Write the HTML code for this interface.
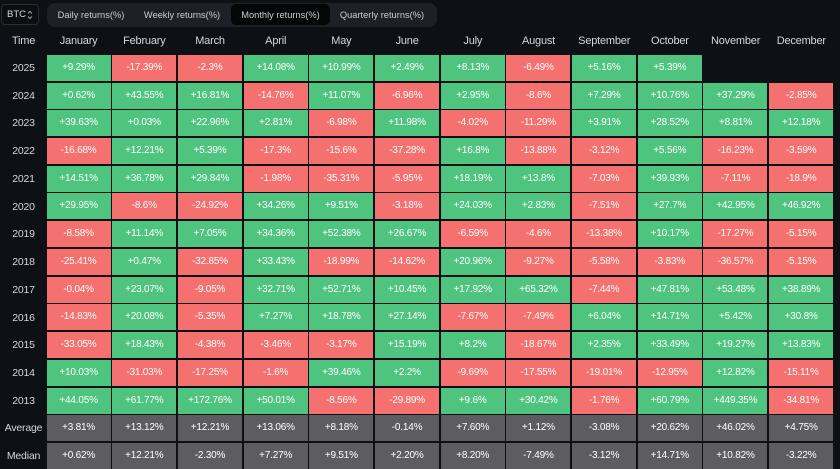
<!DOCTYPE html>
<html><head><meta charset="utf-8"><style>
*{margin:0;padding:0;box-sizing:border-box}
body{width:840px;height:468px;background:#0d1015;overflow:hidden;position:relative;font-family:"Liberation Sans",sans-serif;color:#fff}
.sel{position:absolute;left:1px;top:4px;width:38px;height:21px;border:1px solid #2a2e35;border-radius:4px;background:#0b0d11;font-size:9.5px;color:#d6d8dc;line-height:19px;padding-left:5px}
.sel svg{position:absolute;left:25px;top:5px}
.tabs{position:absolute;left:47px;top:3px;width:390px;height:24px;border-radius:8px;background:#1d2026}
.tab{position:absolute;top:0;height:24px;line-height:24px;font-size:9.3px;color:#c9ccd1;transform:translateX(-50%);white-space:nowrap}
.act{position:absolute;left:184px;top:1px;width:99px;height:21px;background:#050608;border-radius:5px}
.hdr{position:absolute;top:33px;height:16px;line-height:16px;font-size:11px;color:#d4d7dc;transform:translateX(-50%);white-space:nowrap;letter-spacing:-0.2px}
.lbl{position:absolute;left:0;width:47px;text-align:center;font-size:10.5px;color:#d4d7dc;height:26px;line-height:26px;letter-spacing:-0.2px}
.grid{position:absolute;left:46.6px;top:54.8px;display:grid;grid-template-columns:repeat(12,64px);column-gap:1.7px;grid-template-rows:repeat(15,26px);row-gap:1.74px}
.grid div{text-align:center;line-height:26px;font-size:10px;color:#fff;letter-spacing:-0.2px}
.g{background:#4fc47f}.r{background:#f4716f}.a{background:#5d5d5f}.e{background:transparent}
</style></head><body>
<div class="sel">BTC<svg width="6" height="10" viewBox="0 0 6 10"><path d="M1 3.5L3 1.5L5 3.5M1 6.5L3 8.5L5 6.5" stroke="#9aa0a8" stroke-width="1" fill="none"/></svg></div>
<div class="tabs">
<div class="act"></div>
<div class="tab" style="left:44px">Daily returns(%)</div>
<div class="tab" style="left:135px">Weekly returns(%)</div>
<div class="tab" style="left:233.5px">Monthly returns(%)</div>
<div class="tab" style="left:335px">Quarterly returns(%)</div>
</div>
<div class="hdr" style="left:23.5px">Time</div>
<div class="hdr" style="left:78.6px">January</div>
<div class="hdr" style="left:144.3px">February</div>
<div class="hdr" style="left:210px">March</div>
<div class="hdr" style="left:275.7px">April</div>
<div class="hdr" style="left:341.4px">May</div>
<div class="hdr" style="left:407.1px">June</div>
<div class="hdr" style="left:472.8px">July</div>
<div class="hdr" style="left:538.5px">August</div>
<div class="hdr" style="left:604.2px">September</div>
<div class="hdr" style="left:669.9px">October</div>
<div class="hdr" style="left:735.6px">November</div>
<div class="hdr" style="left:801.3px">December</div>

<div class="lbl" style="top:54.8px">2025</div>
<div class="lbl" style="top:82.5px">2024</div>
<div class="lbl" style="top:110.3px">2023</div>
<div class="lbl" style="top:138px">2022</div>
<div class="lbl" style="top:165.8px">2021</div>
<div class="lbl" style="top:193.5px">2020</div>
<div class="lbl" style="top:221.2px">2019</div>
<div class="lbl" style="top:249px">2018</div>
<div class="lbl" style="top:276.7px">2017</div>
<div class="lbl" style="top:304.5px">2016</div>
<div class="lbl" style="top:332.2px">2015</div>
<div class="lbl" style="top:359.9px">2014</div>
<div class="lbl" style="top:387.7px">2013</div>
<div class="lbl" style="top:415.4px">Average</div>
<div class="lbl" style="top:443.2px">Median</div>

<div class="grid">
<div class="g">+9.29%</div><div class="r">-17.39%</div><div class="r">-2.3%</div><div class="g">+14.08%</div><div class="g">+10.99%</div><div class="g">+2.49%</div><div class="g">+8.13%</div><div class="r">-6.49%</div><div class="g">+5.16%</div><div class="g">+5.39%</div><div class="e"></div><div class="e"></div>
<div class="g">+0.62%</div><div class="g">+43.55%</div><div class="g">+16.81%</div><div class="r">-14.76%</div><div class="g">+11.07%</div><div class="r">-6.96%</div><div class="g">+2.95%</div><div class="r">-8.6%</div><div class="g">+7.29%</div><div class="g">+10.76%</div><div class="g">+37.29%</div><div class="r">-2.85%</div>
<div class="g">+39.63%</div><div class="g">+0.03%</div><div class="g">+22.96%</div><div class="g">+2.81%</div><div class="r">-6.98%</div><div class="g">+11.98%</div><div class="r">-4.02%</div><div class="r">-11.29%</div><div class="g">+3.91%</div><div class="g">+28.52%</div><div class="g">+8.81%</div><div class="g">+12.18%</div>
<div class="r">-16.68%</div><div class="g">+12.21%</div><div class="g">+5.39%</div><div class="r">-17.3%</div><div class="r">-15.6%</div><div class="r">-37.28%</div><div class="g">+16.8%</div><div class="r">-13.88%</div><div class="r">-3.12%</div><div class="g">+5.56%</div><div class="r">-16.23%</div><div class="r">-3.59%</div>
<div class="g">+14.51%</div><div class="g">+36.78%</div><div class="g">+29.84%</div><div class="r">-1.98%</div><div class="r">-35.31%</div><div class="r">-5.95%</div><div class="g">+18.19%</div><div class="g">+13.8%</div><div class="r">-7.03%</div><div class="g">+39.93%</div><div class="r">-7.11%</div><div class="r">-18.9%</div>
<div class="g">+29.95%</div><div class="r">-8.6%</div><div class="r">-24.92%</div><div class="g">+34.26%</div><div class="g">+9.51%</div><div class="r">-3.18%</div><div class="g">+24.03%</div><div class="g">+2.83%</div><div class="r">-7.51%</div><div class="g">+27.7%</div><div class="g">+42.95%</div><div class="g">+46.92%</div>
<div class="r">-8.58%</div><div class="g">+11.14%</div><div class="g">+7.05%</div><div class="g">+34.36%</div><div class="g">+52.38%</div><div class="g">+26.67%</div><div class="r">-6.59%</div><div class="r">-4.6%</div><div class="r">-13.38%</div><div class="g">+10.17%</div><div class="r">-17.27%</div><div class="r">-5.15%</div>
<div class="r">-25.41%</div><div class="g">+0.47%</div><div class="r">-32.85%</div><div class="g">+33.43%</div><div class="r">-18.99%</div><div class="r">-14.62%</div><div class="g">+20.96%</div><div class="r">-9.27%</div><div class="r">-5.58%</div><div class="r">-3.83%</div><div class="r">-36.57%</div><div class="r">-5.15%</div>
<div class="r">-0.04%</div><div class="g">+23.07%</div><div class="r">-9.05%</div><div class="g">+32.71%</div><div class="g">+52.71%</div><div class="g">+10.45%</div><div class="g">+17.92%</div><div class="g">+65.32%</div><div class="r">-7.44%</div><div class="g">+47.81%</div><div class="g">+53.48%</div><div class="g">+38.89%</div>
<div class="r">-14.83%</div><div class="g">+20.08%</div><div class="r">-5.35%</div><div class="g">+7.27%</div><div class="g">+18.78%</div><div class="g">+27.14%</div><div class="r">-7.67%</div><div class="r">-7.49%</div><div class="g">+6.04%</div><div class="g">+14.71%</div><div class="g">+5.42%</div><div class="g">+30.8%</div>
<div class="r">-33.05%</div><div class="g">+18.43%</div><div class="r">-4.38%</div><div class="r">-3.46%</div><div class="r">-3.17%</div><div class="g">+15.19%</div><div class="g">+8.2%</div><div class="r">-18.67%</div><div class="g">+2.35%</div><div class="g">+33.49%</div><div class="g">+19.27%</div><div class="g">+13.83%</div>
<div class="g">+10.03%</div><div class="r">-31.03%</div><div class="r">-17.25%</div><div class="r">-1.6%</div><div class="g">+39.46%</div><div class="g">+2.2%</div><div class="r">-9.69%</div><div class="r">-17.55%</div><div class="r">-19.01%</div><div class="r">-12.95%</div><div class="g">+12.82%</div><div class="r">-15.11%</div>
<div class="g">+44.05%</div><div class="g">+61.77%</div><div class="g">+172.76%</div><div class="g">+50.01%</div><div class="r">-8.56%</div><div class="r">-29.89%</div><div class="g">+9.6%</div><div class="g">+30.42%</div><div class="r">-1.76%</div><div class="g">+60.79%</div><div class="g">+449.35%</div><div class="r">-34.81%</div>
<div class="a">+3.81%</div><div class="a">+13.12%</div><div class="a">+12.21%</div><div class="a">+13.06%</div><div class="a">+8.18%</div><div class="a">-0.14%</div><div class="a">+7.60%</div><div class="a">+1.12%</div><div class="a">-3.08%</div><div class="a">+20.62%</div><div class="a">+46.02%</div><div class="a">+4.75%</div>
<div class="a">+0.62%</div><div class="a">+12.21%</div><div class="a">-2.30%</div><div class="a">+7.27%</div><div class="a">+9.51%</div><div class="a">+2.20%</div><div class="a">+8.20%</div><div class="a">-7.49%</div><div class="a">-3.12%</div><div class="a">+14.71%</div><div class="a">+10.82%</div><div class="a">-3.22%</div>
</div>
</body></html>
